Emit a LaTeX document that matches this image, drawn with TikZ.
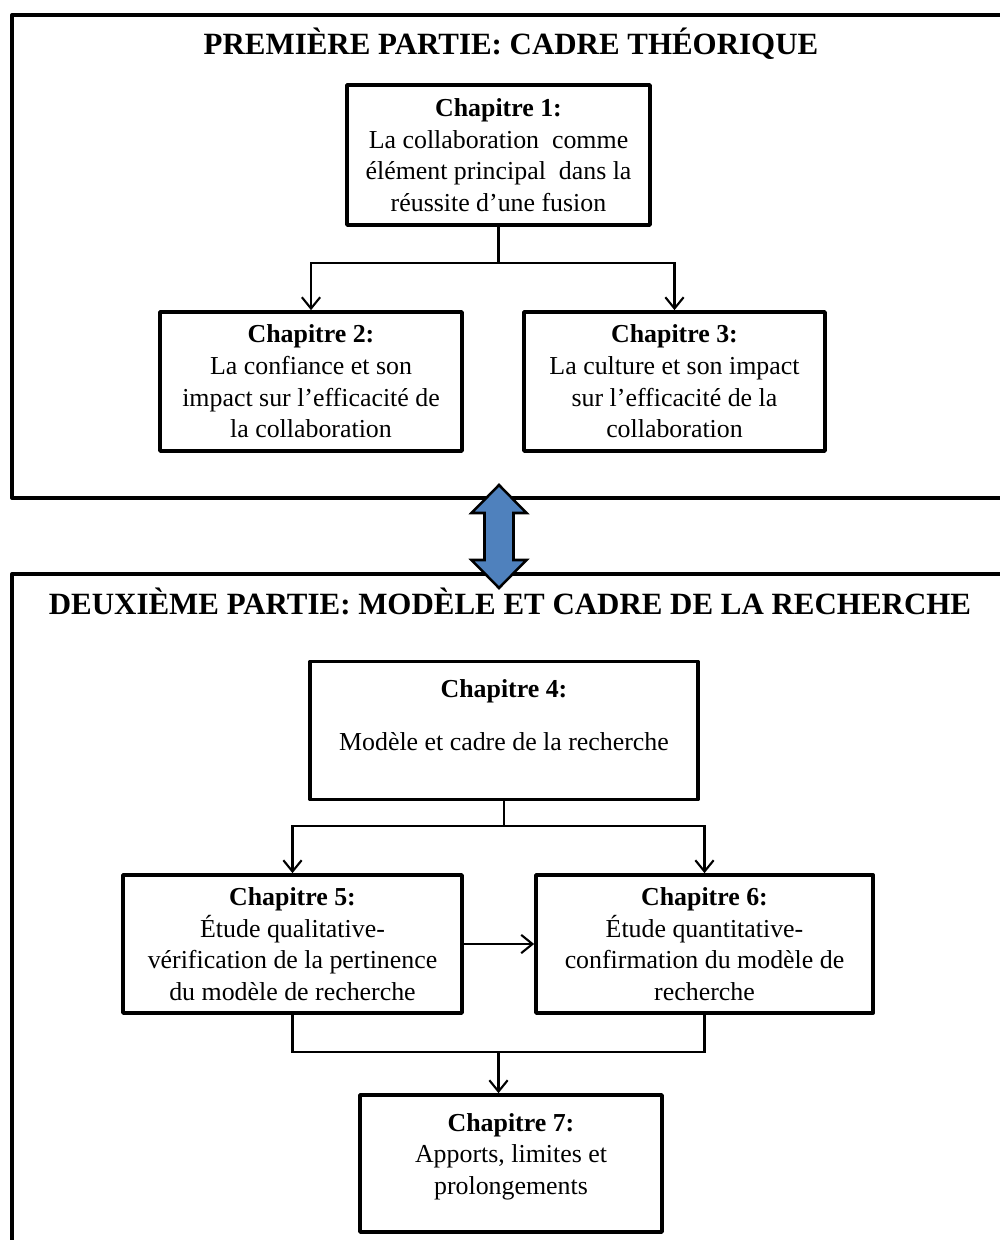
\documentclass[tikz,border=0pt]{standalone}
\usepackage{fontspec}
\setmainfont{Liberation Serif}
\usetikzlibrary{arrows.meta}
\usetikzlibrary{calc}
\tikzset{>={Straight Barb[length=8pt,width=13pt]}}
\definecolor{arrowblue}{HTML}{4F81BD}
\tikzset{
  partbox/.style={line width=2.8pt, line join=round},
  chapbox/.style={draw, line width=2.6pt, line join=round, align=center, inner sep=0pt,
    font=\fontsize{18.4}{22.5}\selectfont},
  link/.style={line width=1.5pt},
  parttitle/.style={font=\fontsize{22}{26}\selectfont\bfseries}
}

\begin{document}
\begin{tikzpicture}[x=0.025cm, y=-0.025cm]
  \useasboundingbox (0,0) rectangle (999,1240);
  % parts
  \draw[partbox] (1040,15) -| (12,498) -- (1040,498);
  \draw[partbox] (1040,574) -| (12,1280);
  \node[parttitle] (title1) at (511,44) {PREMIÈRE PARTIE: CADRE THÉORIQUE};
  \node[parttitle] (title2) at (510,601) {DEUXIÈME PARTIE: MODÈLE ET CADRE DE LA RECHERCHE};
  % node
  \node[chapbox, minimum width=7.575cm, minimum height=3.5cm] (ch1) at (498.5,155)
    {\textbf{Chapitre 1:}\\La collaboration\ \ comme\\élément principal\ \ dans la\\réussite d’une fusion};
  \node[chapbox, minimum width=7.55cm, minimum height=3.475cm] (ch2) at (311,381.5)
    {\textbf{Chapitre 2:}\\La confiance et son\\impact sur l’efficacité de\\la collaboration};
  \node[chapbox, minimum width=7.525cm, minimum height=3.475cm] (ch3) at (674.5,381.5)
    {\textbf{Chapitre 3:}\\La culture et son impact\\sur l’efficacité de la\\collaboration};
  \node[chapbox, minimum width=9.7cm, minimum height=3.45cm] (ch4) at (504,730.5)
    {\textbf{Chapitre 4:}\\[15pt]Modèle et cadre de la recherche\\\mbox{}};
  \node[chapbox, minimum width=8.475cm, minimum height=3.45cm] (ch5) at (292.5,944)
    {\textbf{Chapitre 5:}\\Étude qualitative-\\vérification de la pertinence\\du modèle de recherche};
  \node[chapbox, minimum width=8.425cm, minimum height=3.45cm] (ch6) at (704.5,944)
    {\textbf{Chapitre 6:}\\Étude quantitative-\\confirmation du modèle de\\recherche};
  \node[chapbox, minimum width=7.55cm, minimum height=3.425cm] (ch7) at (511,1163.5)
    {\textbf{Chapitre 7:}\\Apports, limites et\\prolongements\\[-9pt]\mbox{}};
  % lines
  \draw[link, ->] (ch1.south) -- ++(0,36) -| (ch2.north);
  \draw[link, ->] (ch1.south) -- ++(0,36) -| (ch3.north);
  \draw[link, ->] (ch4.south) -- ++(0,25) -| (ch5.north);
  \draw[link, ->] (ch4.south) -- ++(0,25) -| (ch6.north);
  \draw[link, ->] (ch5.east) -- (ch6.west);
  \draw[link] (ch5.south) -- ++(0,37) coordinate (low5) -| (ch6.south);
  \coordinate (join) at ($(low5)!0.5!(ch6.south |- low5)$);
  \draw[link, ->] (join) -- (join |- ch7.north);
  % double arrow
  \draw[line width=1.8pt, line join=miter, fill=arrowblue]
    (499,485) -- (526.5,513) -- (513.5,513) -- (513.5,560) -- (526.5,560) -- (499,588)
    -- (471.5,560) -- (484.5,560) -- (484.5,513) -- (471.5,513) -- cycle;
\end{tikzpicture}
\end{document}
